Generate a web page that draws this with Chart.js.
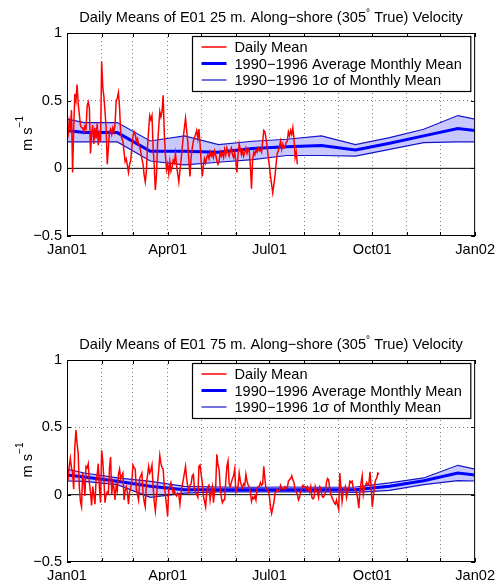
<!DOCTYPE html>
<html>
<head>
<meta charset="utf-8">
<script src="https://cdn.jsdelivr.net/npm/chart.js@4.4.0/dist/chart.umd.min.js"></script>
<style>
  body { margin: 0; background: #fff; }
  #wrap { position: relative; width: 500px; height: 581px; }
  canvas { position: absolute; left: 0; }
</style>
</head>
<body>
<div id="wrap">
  <canvas id="chart25" width="500" height="290" style="top:0"></canvas>
  <canvas id="chart75" width="500" height="291" style="top:290px"></canvas>
</div>
<script>
// x axis is days since Jan 1
const monthStarts = [0, 31, 59, 90, 120, 151, 181, 212, 243, 273, 304, 334, 365];
const monthTickLabels = ["Jan01", "", "", "Apr01", "", "", "Jul01", "", "", "Oct01", "", "", "Jan02"];
const yTickValues = [-0.5, 0, 0.5, 1];
const yTickLabels = ["−0.5", "0", "0.5", "1"];

// monthly climatology at mid-month, Dec and Jan repeated at the ends so the band wraps
const bandDays = [-15.5, 15.5, 45, 74.5, 105, 135.5, 166, 196.5, 227.5, 258, 288.5, 319, 349.5, 380.5];

const mean25 = [0.294, 0.264, 0.264, 0.126, 0.126, 0.118, 0.146, 0.16, 0.168, 0.135, 0.185, 0.24, 0.294, 0.264];
const upper25 = [0.39, 0.338, 0.338, 0.202, 0.24, 0.175, 0.2, 0.215, 0.24, 0.175, 0.227, 0.289, 0.39, 0.338];
const lower25 = [0.195, 0.195, 0.195, 0.054, 0.025, 0.045, 0.065, 0.095, 0.095, 0.09, 0.14, 0.19, 0.195, 0.195];

const mean75 = [0.161, 0.131, 0.099, 0.062, 0.037, 0.037, 0.037, 0.037, 0.037, 0.037, 0.062, 0.104, 0.161, 0.131];
const upper75 = [0.218, 0.161, 0.124, 0.099, 0.062, 0.057, 0.055, 0.057, 0.055, 0.057, 0.087, 0.124, 0.218, 0.161];
const lower75 = [0.104, 0.099, 0.074, -0.02, 0.012, 0.02, 0.02, 0.02, 0.02, 0.017, 0.032, 0.074, 0.104, 0.099];

// daily means, one value per day starting Jan 1
const daily25 = [
  0.28, 0.25, 0.35, 0.30, 0.43, -0.03, 0.30, 0.55, 0.50, 0.62,
  0.48, 0.40, 0.32, 0.30, 0.30, 0.27, 0.31, 0.29, 0.46, 0.49,
  0.45, 0.11, 0.25, 0.32, 0.18, 0.30, 0.22, 0.33, 0.17, 0.28,
  0.20, 0.79, 0.60, 0.53, 0.42, 0.30, 0.03, 0.15, 0.27, 0.29,
  0.25, 0.30, 0.27, 0.33, 0.50, 0.52, 0.56, 0.45, 0.26, 0.22,
  0.20, 0.12, 0.05, 0.07, 0.02, -0.03, 0.03, 0.06, 0.15, 0.24,
  0.27, 0.25, 0.20, 0.22, 0.18, 0.16, 0.12, 0.07, 0.03, -0.05,
  -0.10, -0.02, 0.16, 0.28, 0.39, 0.36, 0.39, 0.16, 0.02, -0.16,
  -0.05, 0.18, 0.30, 0.42, 0.38, 0.42, 0.54, 0.26, 0.10, -0.01,
  0.03, -0.04, 0.05, -0.02, 0.01, 0.06, 0.04, 0.11, 0.02, -0.04,
  -0.10, -0.02, 0.06, 0.15, 0.23, 0.30, 0.37, 0.28, 0.20, 0.05,
  -0.06, 0.08, 0.15, 0.20, 0.23, 0.25, 0.28, 0.22, 0.29, 0.18,
  0.05, -0.06, 0.02, 0.07, 0.04, 0.08, 0.10, 0.07, 0.12, 0.09,
  0.11, 0.08, 0.13, 0.10, 0.06, 0.03, 0.05, 0.12, 0.09, 0.11,
  0.08, 0.14, 0.10, 0.15, 0.12, 0.09, 0.13, 0.15, 0.10, 0.08,
  0.12, 0.05, -0.03, 0.10, 0.18, 0.14, 0.10, 0.13, 0.09, 0.12,
  0.15, 0.11, 0.14, 0.13, 0.02, -0.15, 0.06, 0.12, 0.10, 0.14,
  0.12, 0.15, 0.13, 0.14, 0.12, 0.20, 0.28, 0.27, 0.22, 0.16,
  0.08, 0.02, -0.06, -0.12, -0.18, -0.12, -0.06, 0.03, 0.11, 0.13,
  0.16, 0.20, 0.14, 0.18, 0.15, 0.16, 0.19, 0.20, 0.27, 0.24,
  0.28, 0.25, 0.30, 0.22, 0.08, 0.12, 0.03
];
const daily75 = [
  0.14, 0.12, 0.21, 0.27, 0.20, 0.16, 0.04, 0.35, 0.48, 0.38,
  0.31, 0.06, -0.05, -0.09, 0.16, 0.10, -0.01, 0.21, 0.20, 0.23,
  0.09, 0.02, -0.08, 0.06, 0.00, -0.07, 0.11, 0.15, 0.23, 0.05,
  -0.06, 0.33, 0.25, 0.11, -0.06, 0.00, 0.02, 0.01, 0.20, 0.28,
  0.00, 0.09, 0.05, -0.04, 0.07, 0.03, 0.15, 0.19, 0.12, 0.14,
  0.16, -0.04, 0.03, 0.06, 0.02, -0.07, 0.02, 0.05, 0.10, 0.22,
  0.20, 0.19, 0.04, 0.00, -0.04, 0.12, 0.14, 0.16, 0.01, -0.05,
  -0.09, 0.09, 0.14, 0.21, 0.16, 0.18, 0.22, 0.06, -0.05, -0.12,
  -0.02, 0.09, 0.18, 0.29, 0.23, 0.20, 0.19, 0.06, 0.00, -0.08,
  -0.16, 0.04, 0.06, 0.09, 0.05, 0.01, 0.03, 0.00, -0.01, 0.01,
  0.00, -0.07, 0.01, 0.07, 0.11, 0.16, 0.21, 0.12, 0.06, 0.02,
  0.07, 0.08, 0.14, 0.15, 0.05, 0.02, 0.00, -0.02, 0.21, 0.22,
  0.15, 0.09, -0.01, -0.05, -0.09, 0.02, 0.06, 0.07, -0.04, 0.02,
  0.06, -0.06, 0.03, 0.06, 0.30, 0.22, 0.19, 0.06, -0.02, -0.06,
  -0.04, -0.04, 0.10, 0.21, 0.25, 0.08, 0.06, 0.09, 0.12, 0.14,
  0.19, 0.02, 0.05, 0.06, 0.16, 0.10, 0.07, 0.05, 0.08, 0.07,
  0.15, 0.10, 0.07, 0.06, 0.02, -0.05, -0.02, -0.03, -0.01, -0.04,
  0.05, 0.06, 0.06, 0.09, 0.07, 0.08, 0.21, 0.12, 0.04, 0.04,
  0.03, -0.01, -0.09, -0.14, -0.10, -0.06, 0.01, 0.02, 0.04, 0.03,
  0.03, 0.07, 0.05, 0.04, 0.04, 0.06, 0.05, 0.05, 0.10, 0.11,
  0.12, 0.14, 0.11, 0.09, 0.04, 0.02, 0.00, -0.04, -0.02, 0.02,
  0.05, 0.07, 0.06, 0.06, 0.04, 0.06, 0.04, 0.02, 0.06, -0.02,
  -0.03, -0.02, 0.06, 0.03, 0.02, -0.02, 0.06, 0.05, -0.01, -0.02,
  -0.01, 0.01, 0.09, 0.12, 0.11, 0.04, 0.00, -0.02, -0.04, -0.06,
  -0.07, -0.04, -0.08, -0.11, 0.16, 0.05, -0.05, 0.02, 0.04, 0.06,
  -0.02, 0.02, 0.04, 0.10, 0.09, 0.10, 0.05, 0.04, 0.03, 0.01,
  -0.03, -0.10, 0.03, 0.09, 0.14, 0.00, 0.05, 0.07, 0.09, 0.07,
  0.08, 0.17, 0.06, -0.09, -0.02, 0.07, 0.11, 0.12, 0.16, 0.15
];

const title25 = ["Daily Means of E01 25 m. Along−shore (305", "°", " True) Velocity"];
const title75 = ["Daily Means of E01 75 m. Along−shore (305", "°", " True) Velocity"];
const yLabel = ["m s", "−1"];
const legendLabels = ["Daily Mean", "1990−1996 Average Monthly Mean", "1990−1996 1σ of Monthly Mean"];

const FONT = '"Liberation Sans", Arial, Helvetica, sans-serif';
const BIG = "14.6px " + FONT;
const SMALL = "10px " + FONT;
const RED = "#ff0000";
const BLUE = "#0000ff";
const EDGE = "#1414c8";
const FILL = "#c8c8ff";

Chart.defaults.font.family = FONT;
Chart.defaults.font.size = 14.6;
Chart.defaults.color = "#000";

function toPoints(xs, ys) {
	return ys.map((y, i) => ({ x: xs[i], y: y }));
}

// text with one raised small piece in the middle
function drawSuper(ctx, parts, x, y, centered, rise) {
	ctx.font = BIG;
	const w0 = ctx.measureText(parts[0]).width;
	const w2 = parts[2] ? ctx.measureText(parts[2]).width : 0;
	ctx.font = SMALL;
	const w1 = ctx.measureText(parts[1]).width;
	const sx = centered ? x - (w0 + w1 + w2) / 2 : x;
	ctx.textAlign = "left";
	ctx.textBaseline = "alphabetic";
	ctx.font = BIG;
	ctx.fillText(parts[0], sx, y);
	ctx.font = SMALL;
	ctx.fillText(parts[1], sx + w0, y - rise);
	if (parts[2]) {
		ctx.font = BIG;
		ctx.fillText(parts[2], sx + w0 + w1, y);
	}
}

const matlabLook = {
	id: "matlabLook",
	afterDraw(chart) {
		const { ctx, chartArea: a, scales } = chart;
		const o = chart.options.plugins.matlabLook;
		ctx.save();
		ctx.fillStyle = "#000";

		// axes box with inward ticks
		ctx.strokeStyle = "#000";
		ctx.lineWidth = 1;
		ctx.strokeRect(a.left + 0.5, a.top + 0.5, a.right - a.left - 1, a.bottom - a.top - 1);
		ctx.beginPath();
		monthStarts.forEach((m) => {
			const x = Math.round(scales.x.getPixelForValue(m)) + 0.5;
			ctx.moveTo(x, a.bottom);
			ctx.lineTo(x, a.bottom - 4);
			ctx.moveTo(x, a.top);
			ctx.lineTo(x, a.top + 4);
		});
		yTickValues.forEach((v) => {
			const y = Math.round(scales.y.getPixelForValue(v)) + 0.5;
			ctx.moveTo(a.left, y);
			ctx.lineTo(a.left + 4, y);
			ctx.moveTo(a.right, y);
			ctx.lineTo(a.right - 4, y);
		});
		ctx.stroke();

		// title
		drawSuper(ctx, o.title, (a.left + a.right) / 2, a.top - 11, true, 6);

		// y label
		ctx.save();
		ctx.translate(32, (a.top + a.bottom) / 2 - 1);
		ctx.rotate(-Math.PI / 2);
		ctx.font = BIG;
		const wl = ctx.measureText(yLabel[0]).width;
		ctx.font = SMALL;
		const wl2 = ctx.measureText(yLabel[1]).width;
		drawSuper(ctx, yLabel, -(wl + wl2) / 2, 0, false, 9);
		ctx.restore();

		// legend
		ctx.font = BIG;
		const maxW = Math.max(...legendLabels.map((t) => ctx.measureText(t).width));
		const bw = 42 + maxW + 9;
		const bh = 55;
		const bx = Math.round(a.right - 5 - bw) + 0.5;
		const by = a.top + 3.5;
		ctx.fillStyle = "#fff";
		ctx.fillRect(bx, by, bw, bh);
		ctx.strokeStyle = "#000";
		ctx.lineWidth = 1.2;
		ctx.strokeRect(bx, by, bw, bh);
		const styles = [
			[RED, 1.5],
			[BLUE, 3],
			[EDGE, 1.2],
		];
		legendLabels.forEach((t, i) => {
			const ly = by + 10.5 + i * 16.5;
			ctx.strokeStyle = styles[i][0];
			ctx.lineWidth = styles[i][1];
			ctx.beginPath();
			ctx.moveTo(bx + 9, ly);
			ctx.lineTo(bx + 34, ly);
			ctx.stroke();
			ctx.fillStyle = "#000";
			ctx.textAlign = "left";
			ctx.textBaseline = "middle";
			ctx.fillText(t, bx + 42, ly + 1);
		});
		ctx.restore();
	},
};

function makeChart(id, daily, mean, upper, lower, title, areaTop, areaBottom) {
	const canvas = document.getElementById(id);
	const h = canvas.height;
	return new Chart(canvas, {
		type: "line",
		data: {
			datasets: [
				{
					label: "Daily Mean",
					data: daily.map((y, i) => ({ x: i, y: y })),
					borderColor: RED,
					borderWidth: 1.5,
					pointRadius: 0,
					fill: false,
					order: 0,
				},
				{
					label: "Average Monthly Mean",
					data: toPoints(bandDays, mean),
					borderColor: BLUE,
					borderWidth: 3,
					pointRadius: 0,
					fill: false,
					order: 1,
				},
				{
					label: "upper",
					data: toPoints(bandDays, upper),
					borderColor: EDGE,
					borderWidth: 1.2,
					pointRadius: 0,
					backgroundColor: FILL,
					fill: "+1",
					order: 4,
				},
				{
					label: "lower",
					data: toPoints(bandDays, lower),
					borderColor: EDGE,
					borderWidth: 1.2,
					pointRadius: 0,
					fill: false,
					order: 3,
				},
				{
					label: "zero",
					data: [
						{ x: 0, y: 0 },
						{ x: 365, y: 0 },
					],
					borderColor: "#000",
					borderWidth: 1,
					pointRadius: 0,
					fill: false,
					order: 2,
				},
			],
		},
		options: {
			responsive: false,
			animation: false,
			events: [],
			layout: { padding: { top: areaTop, right: 23, left: 0, bottom: 0 } },
			scales: {
				x: {
					type: "linear",
					min: 0,
					max: 365,
					afterBuildTicks: (s) => {
						s.ticks = monthStarts.map((v) => ({ value: v }));
					},
					afterFit: (s) => {
						s.height = h - areaBottom;
					},
					ticks: {
						autoSkip: false,
						maxRotation: 0,
						padding: 5,
						callback: (v, i) => monthTickLabels[i],
					},
					grid: {
						drawTicks: false,
						lineWidth: 1,
						color: (c) =>
							c.tick && c.tick.value > 0 && c.tick.value < 365 ? "#808080" : "rgba(0,0,0,0)",
					},
					border: { display: false, dash: [1, 3] },
				},
				y: {
					min: -0.5,
					max: 1,
					afterBuildTicks: (s) => {
						s.ticks = yTickValues.map((v) => ({ value: v }));
					},
					afterFit: (s) => {
						s.width = 67;
					},
					ticks: {
						padding: 5,
						callback: (v, i) => yTickLabels[i],
					},
					grid: {
						drawTicks: false,
						lineWidth: 1,
						color: (c) => (c.tick && c.tick.value === 0.5 ? "#808080" : "rgba(0,0,0,0)"),
					},
					border: { display: false, dash: [1, 3] },
				},
			},
			plugins: {
				legend: { display: false },
				tooltip: { enabled: false },
				title: { display: false },
				matlabLook: { title: title },
			},
		},
		plugins: [matlabLook],
	});
}

makeChart("chart25", daily25, mean25, upper25, lower25, title25, 33, 236);
makeChart("chart75", daily75, mean75, upper75, lower75, title75, 70, 272);
</script>
</body>
</html>
